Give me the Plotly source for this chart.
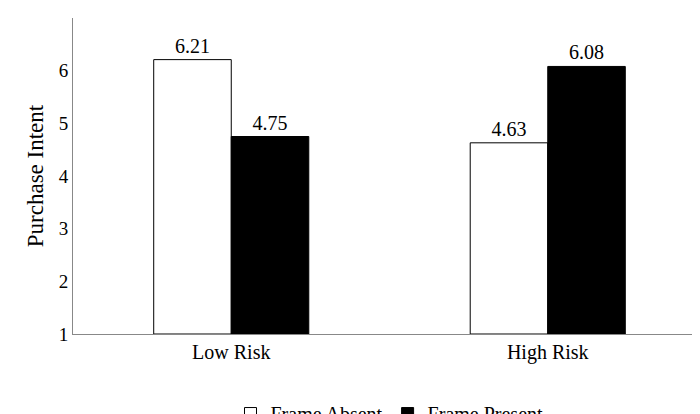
import plotly.graph_objects as go

categories = ["Low Risk", "High Risk"]
frame_absent = [6.21, 4.63]
frame_present = [4.75, 6.08]

fig = go.Figure()
fig.add_trace(go.Bar(x=categories, y=[v - 1 for v in frame_absent], base=1,
                     name="Frame Absent", marker=dict(color="white", line=dict(color="black", width=1)),
                     text=["%.2f" % v for v in frame_absent], textposition="outside",
                     textfont=dict(size=20, color="black"), cliponaxis=False))
fig.add_trace(go.Bar(x=categories, y=[v - 1 for v in frame_present], base=1,
                     name="Frame Present", marker=dict(color="black", line=dict(color="black", width=1)),
                     text=["%.2f" % v for v in frame_present], textposition="outside",
                     textfont=dict(size=20, color="black"), cliponaxis=False))

fig.update_layout(
    width=700, height=414,
    margin=dict(l=65, r=2, t=10, b=88, autoexpand=False),
    plot_bgcolor="white", paper_bgcolor="white",
    font=dict(family="Liberation Serif", size=19, color="black"),
    barmode="group", bargap=0.51, bargroupgap=0,
    showlegend=True,
    legend=dict(orientation="h", x=0.5, xanchor="center", y=-0.19, yanchor="top",
                font=dict(size=20), itemwidth=30),
    yaxis=dict(range=[1, 7], dtick=1, showgrid=False, showline=True, linecolor="#888",
               ticks="", automargin=False, title=dict(text="Purchase Intent", standoff=8)),
    xaxis=dict(showline=True, linecolor="#888", ticks="", automargin=False, tickfont=dict(size=20)),
)

fig.write_html("out.html")
